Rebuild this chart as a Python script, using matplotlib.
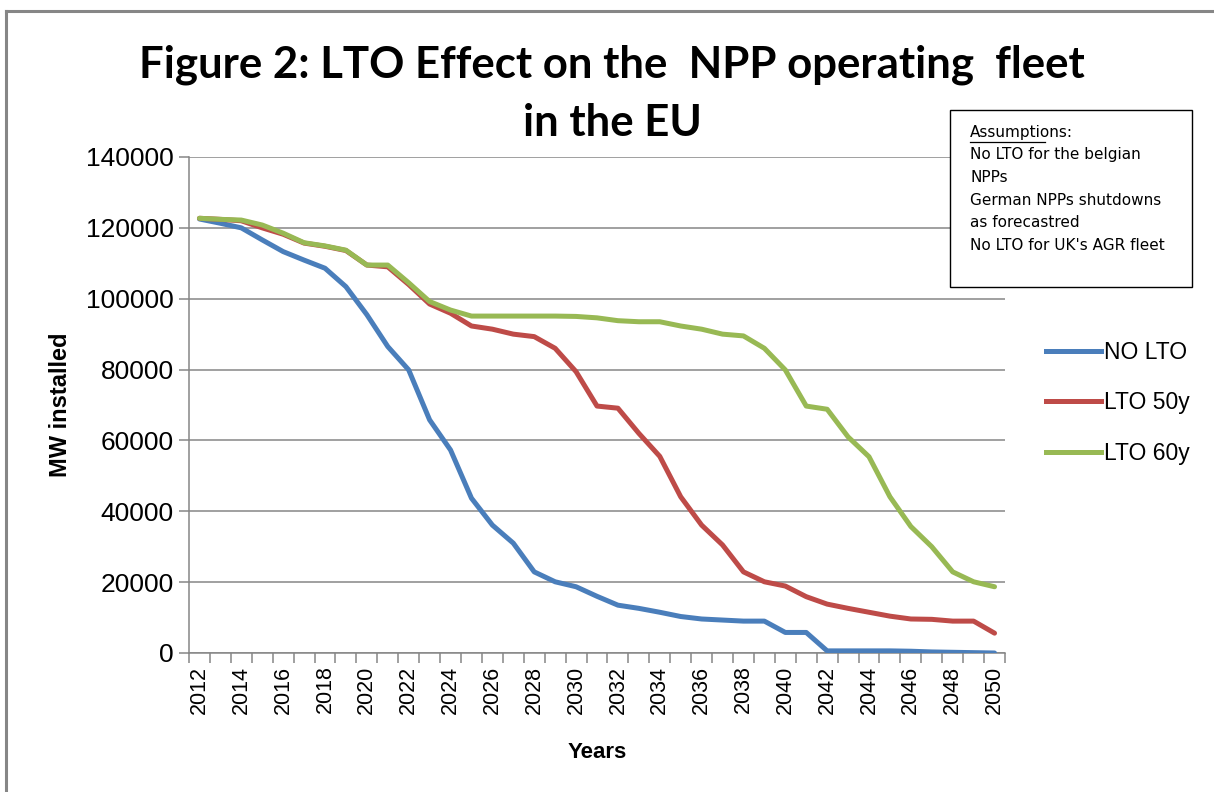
import matplotlib
matplotlib.use("Agg")
import matplotlib.pyplot as plt
from matplotlib.lines import Line2D
from matplotlib.patches import Rectangle

years = list(range(2012, 2051))
tick_labels = [str(y) if (y - 2012) % 2 == 0 else "" for y in years]

no_lto = [122500, 121300, 120000, 116600, 113300, 110900, 108600, 103400, 95500, 86500,
          79900, 65800, 57300, 43700, 36100, 31000, 22900, 20100, 18700, 16000,
          13500, 12600, 11500, 10300, 9600, 9300, 9000, 9000, 5800, 5800,
          600, 600, 600, 600, 500, 300, 200, 100, 0]
lto_50 = [122700, 122400, 122000, 120000, 118200, 115700, 114800, 113600, 109500, 109000,
          104000, 98500, 95900, 92300, 91400, 90000, 89300, 86000, 79400, 69700,
          69100, 62000, 55500, 44100, 36100, 30500, 22900, 20100, 18900, 15900,
          13800, 12600, 11500, 10400, 9600, 9500, 9000, 9000, 5600]
lto_60 = [122700, 122400, 122200, 120800, 118500, 115800, 114900, 113700, 109500, 109500,
          104500, 99200, 96800, 95100, 95100, 95100, 95100, 95100, 95000, 94600,
          93800, 93500, 93500, 92300, 91400, 90000, 89500, 86000, 79900, 69700,
          68800, 61000, 55400, 44100, 35700, 30000, 22900, 20100, 18700]

series_names = ["NO LTO", "LTO 50y", "LTO 60y"]
series_colors = ["#4A7EBB", "#BE4B48", "#98B954"]
y_ticks = [0, 20000, 40000, 60000, 80000, 100000, 120000, 140000]

title_lines = ["Figure 2: LTO Effect on the  NPP operating  fleet", "in the EU"]
assumptions = ["No LTO for the belgian", "NPPs", "German NPPs shutdowns",
               "as forecastred", "No LTO for UK's AGR fleet"]

plt.rcParams["font.family"] = ["Liberation Sans", "DejaVu Sans"]

fig = plt.figure(figsize=(12.14, 7.92), dpi=100)
W, H = 1214, 792
ax = fig.add_axes([189 / W, 1 - 653 / H, (1005 - 189) / W, (653 - 157) / H])

x = list(range(len(years)))
for vals, name, col in zip([no_lto, lto_50, lto_60], series_names, series_colors):
    ax.plot(x, vals, color=col, lw=3.6, label=name, solid_joinstyle="round",
            solid_capstyle="round", zorder=3)

ax.set_xlim(-0.5, len(years) - 0.5)
ax.set_ylim(0, 140000)
ax.set_yticks(y_ticks)
ax.set_yticklabels([str(v) for v in y_ticks], fontsize=19)
ax.yaxis.grid(True, color="#868686", lw=1.1)
ax.set_axisbelow(True)

ax.set_xticks(x)
ax.set_xticklabels(tick_labels, rotation=90, fontsize=15.5)
ax.tick_params(axis="x", length=0, pad=9)
ax.set_xticks([i - 0.5 for i in range(len(years) + 1)], minor=True)
ax.tick_params(axis="x", which="minor", length=7, color="#868686", width=1.1)
ax.tick_params(axis="y", length=7, color="#868686", width=1.1, pad=4)

for s in ["top", "right"]:
    ax.spines[s].set_visible(False)
for s in ["left", "bottom"]:
    ax.spines[s].set_color("#868686")
    ax.spines[s].set_linewidth(1.1)

ax.set_ylabel("MW installed", fontsize=17, fontweight="bold", labelpad=10)
ax.set_xlabel("Years", fontsize=16, fontweight="bold", labelpad=20)

title_font = ["Lato", "DejaVu Sans"]
fig.text(612 / W, 1 - 65 / H, title_lines[0], ha="center", va="center",
         fontsize=31.5, fontweight="bold", family=title_font)
fig.text(612 / W, 1 - 123 / H, title_lines[1], ha="center", va="center",
         fontsize=31.5, fontweight="bold", family=title_font)

# legend
leg_handles = [Line2D([], [], color=c, lw=3.6) for c in series_colors]
fig.legend(leg_handles, series_names, loc="center left",
           bbox_to_anchor=(1025 / W, 1 - 403 / H), frameon=False,
           fontsize=16.5, handlelength=2.4, handletextpad=0.15, labelspacing=1.2)

# assumptions box
fig.patches.append(Rectangle((950 / W, 1 - 287 / H), (1192 - 950) / W, (287 - 110) / H,
                             transform=fig.transFigure, fill=True, facecolor="white",
                             edgecolor="black", lw=1.0, zorder=5))
box_font = ["DejaVu Sans"]
fig.text(970 / W, 1 - 132 / H, "Assumptions:", ha="left", va="center", fontsize=11,
         family=box_font, zorder=6)
fig.add_artist(Line2D([970 / W, 1045 / W], [1 - 141.5 / H, 1 - 141.5 / H], color="black",
                      lw=0.9, transform=fig.transFigure, zorder=6))
for i, line in enumerate(assumptions):
    fig.text(970 / W, 1 - (155 + 22.6 * i) / H, line, ha="left", va="center",
             fontsize=11, family=box_font, zorder=6)

# outer chart border (gray)
fig.add_artist(Line2D([6 / W, 6 / W], [0, 1 - 11 / H], color="#868686", lw=2.2,
                      transform=fig.transFigure))
fig.add_artist(Line2D([6 / W, 1], [1 - 11 / H, 1 - 11 / H], color="#868686", lw=2.2,
                      transform=fig.transFigure))

fig.savefig("out.png", dpi=100)
